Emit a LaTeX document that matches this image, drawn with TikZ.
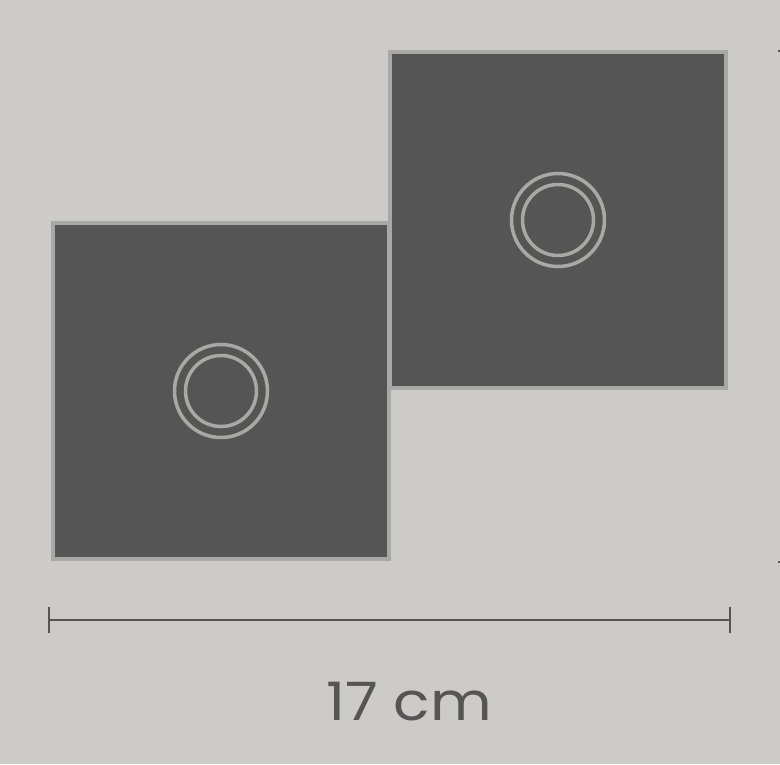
\documentclass[tikz,border=0pt]{standalone}
\usepackage{fontspec}
\setmainfont{Poppins}
\definecolor{bgGray}{HTML}{CCCBC8}
\definecolor{panelGray}{HTML}{555555}
\definecolor{rimGray}{HTML}{A8A8A7}
\definecolor{dimGray}{HTML}{555555}

\begin{document}
\begin{tikzpicture}[
    x = 1pt, y = -1pt,
    panel/.style = {draw = rimGray, fill = panelGray, line width = 3.5pt,
                    minimum size = 336pt, inner sep = 0pt},
    ring/.style = {circle, draw = rimGray, line width = 3.5pt, inner sep = 0pt},
    dimline/.style = {draw = dimGray, line width = 2pt},
    every node/.style = {text = dimGray}]

\fill[bgGray] (0,0) rectangle (780,764);
\useasboundingbox (0,0) rectangle (780,764);

\node[panel] (panelA) at (221,391) {};
\node[panel] (panelB) at (558,220) {};
\node[ring, minimum size = 93pt] (outerA) at (panelA.center) {};
\node[ring, minimum size = 71pt] (innerA) at (panelA.center) {};
\node[ring, minimum size = 93pt] (outerB) at (panelB.center) {};
\node[ring, minimum size = 71pt] (innerB) at (panelB.center) {};

\coordinate (dimL) at (49,620);
\coordinate (dimR) at (730,620);
\draw[dimline] (dimL) -- (dimR)
      (49,607) -- (49,633)
      (730,607) -- (730,633)
      (778,51) -- (782,51)
      (778,562) -- (782,562);
\node[font = \fontsize{53}{60}\selectfont, xscale = 1.13, transform shape]
      (width) at (409,702) {17 cm};
\end{tikzpicture}
\end{document}
